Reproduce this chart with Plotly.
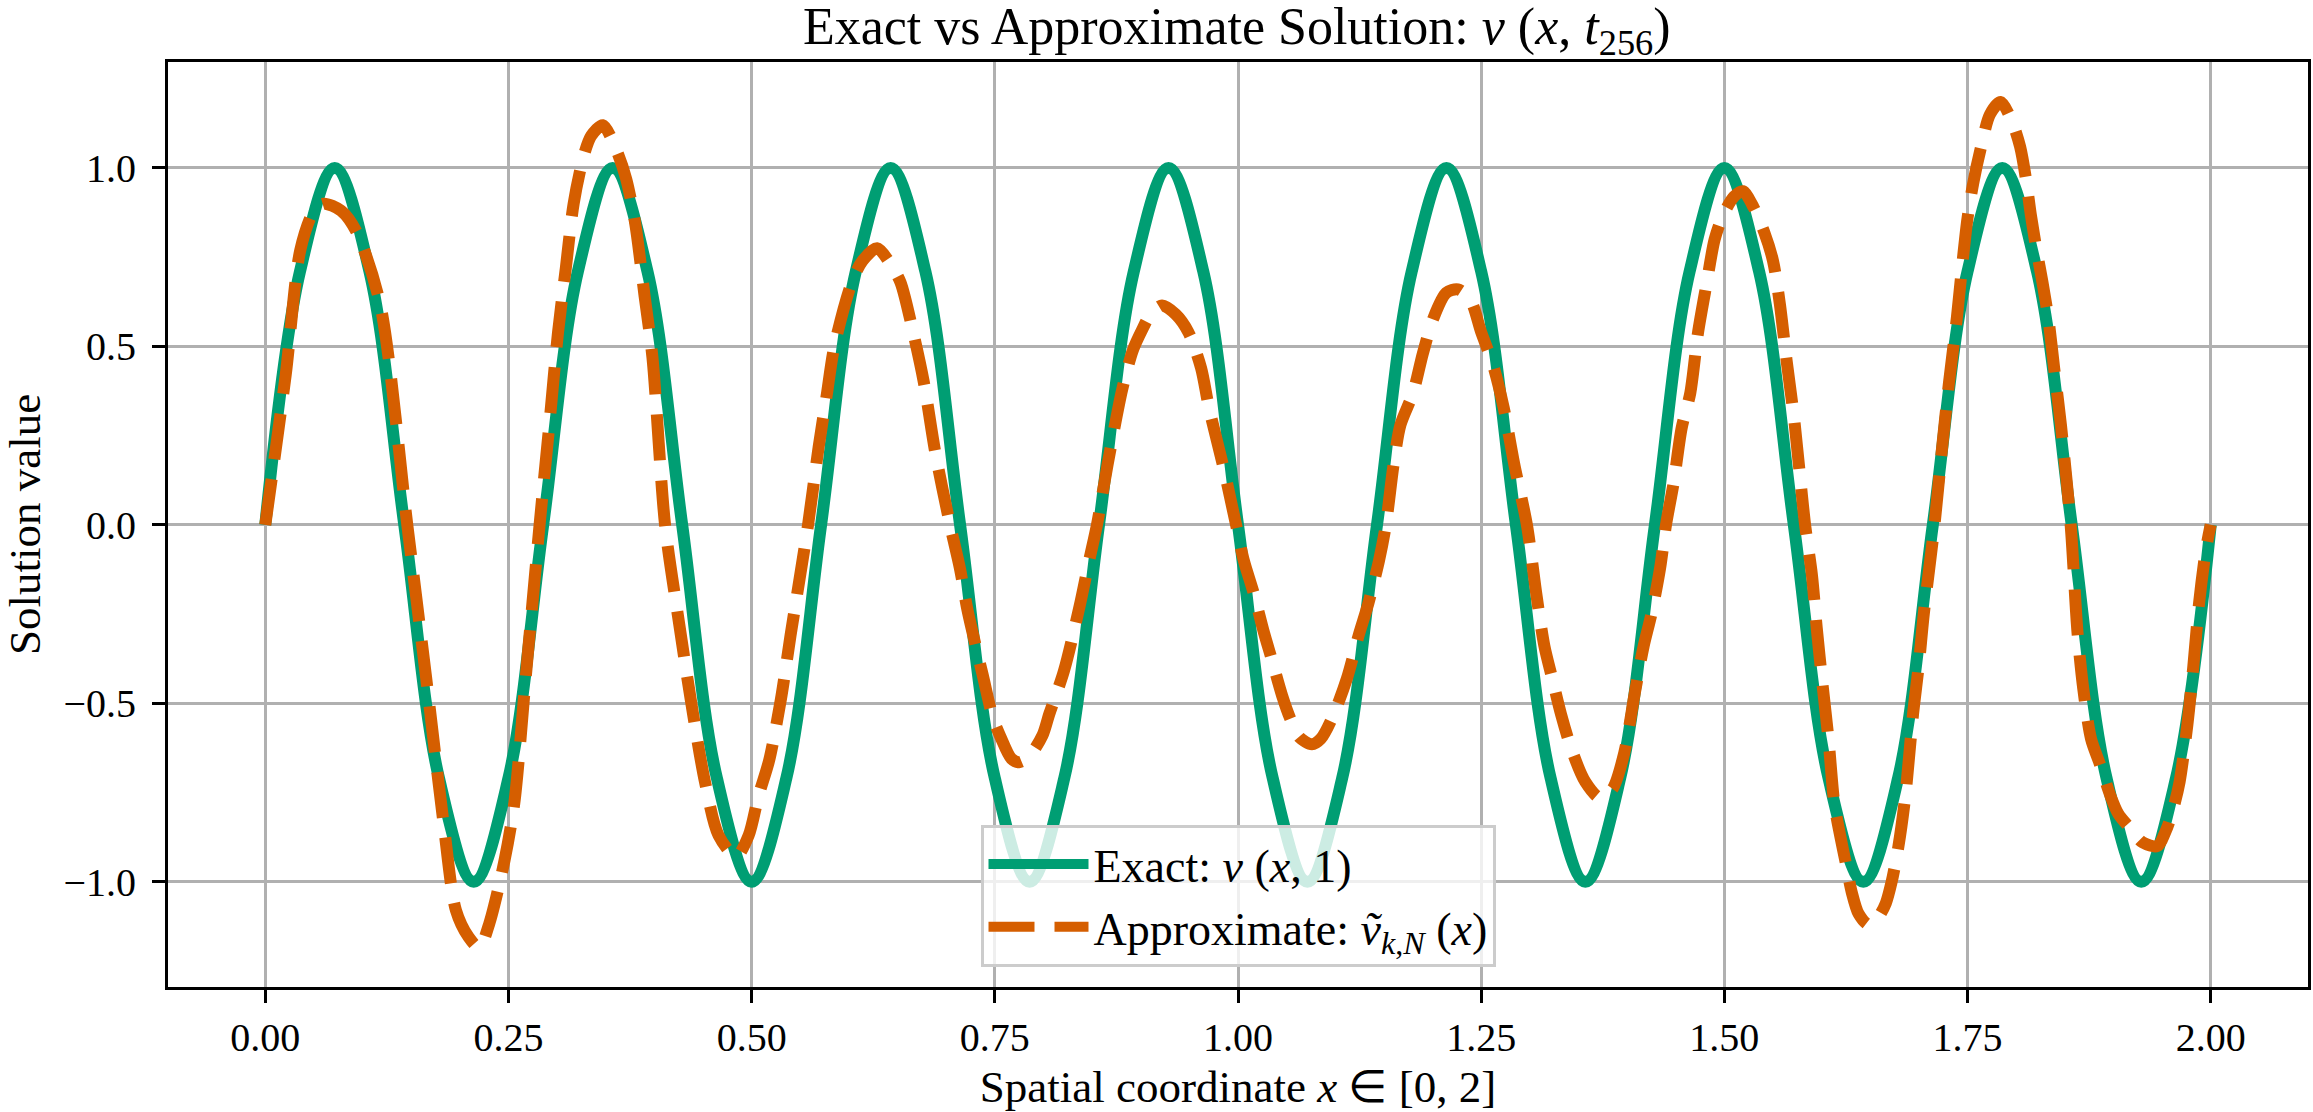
import plotly.graph_objects as go

# ---------------- data ----------------
exact_x = [0.0000, 0.0357, 0.0714, 0.1071, 0.1429, 0.1786, 0.2143, 0.2500, 0.2857, 0.3214,
           0.3571, 0.3929, 0.4286, 0.4643, 0.5000, 0.5357, 0.5714, 0.6071, 0.6429, 0.6786,
           0.7143, 0.7500, 0.7857, 0.8214, 0.8571, 0.8929, 0.9286, 0.9643, 1.0000, 1.0357,
           1.0714, 1.1071, 1.1429, 1.1786, 1.2143, 1.2500, 1.2857, 1.3214, 1.3571, 1.3929,
           1.4286, 1.4643, 1.5000, 1.5357, 1.5714, 1.6071, 1.6429, 1.6786, 1.7143, 1.7500,
           1.7857, 1.8214, 1.8571, 1.8929, 1.9286, 1.9643, 2.0000]
exact_y = [0.0, 0.71, 1.0, 0.71, 0.0, -0.71, -1.0, -0.71,
           0.0, 0.71, 1.0, 0.71, 0.0, -0.71, -1.0, -0.71,
           0.0, 0.71, 1.0, 0.71, 0.0, -0.71, -1.0, -0.71,
           0.0, 0.71, 1.0, 0.71, 0.0, -0.71, -1.0, -0.71,
           0.0, 0.71, 1.0, 0.71, 0.0, -0.71, -1.0, -0.71,
           0.0, 0.71, 1.0, 0.71, 0.0, -0.71, -1.0, -0.71,
           0.0, 0.71, 1.0, 0.71, 0.0, -0.71, -1.0, -0.71,
           0.0]

approx_x = [0.000, 0.021, 0.036, 0.050, 0.060, 0.078, 0.094, 0.118, 0.146,
            0.165, 0.183, 0.196, 0.209, 0.220, 0.230, 0.246, 0.256, 0.268, 0.282,
            0.292, 0.301, 0.309, 0.317, 0.327, 0.335, 0.347, 0.361, 0.371, 0.380, 0.390, 0.398,
            0.411, 0.424, 0.438, 0.452, 0.466, 0.484, 0.497, 0.507, 0.518, 0.530, 0.540,
            0.558, 0.569, 0.577, 0.585, 0.603, 0.614, 0.629, 0.643, 0.653, 0.666, 0.677, 0.689,
            0.704, 0.714, 0.722, 0.7375, 0.748, 0.756, 0.767, 0.775, 0.785, 0.799, 0.806, 0.821, 0.837, 0.847,
            0.855, 0.866, 0.881, 0.892, 0.902, 0.910, 0.922, 0.936, 0.949, 0.962, 0.970, 0.986,
            0.998, 1.006, 1.016, 1.027, 1.034, 1.0455, 1.054, 1.063, 1.076, 1.085, 1.097, 1.112, 1.124, 1.134, 1.145,
            1.152, 1.160, 1.167, 1.180, 1.190, 1.201, 1.214, 1.226, 1.239, 1.250, 1.262, 1.273, 1.284,
            1.297, 1.307, 1.315, 1.323, 1.332, 1.343, 1.357, 1.372, 1.385, 1.397, 1.408, 1.417, 1.425, 1.434,
            1.440, 1.448, 1.456, 1.465, 1.473, 1.482, 1.490, 1.499, 1.510, 1.519, 1.530, 1.541, 1.550, 1.557, 1.564, 1.572,
            1.583, 1.590, 1.595, 1.601, 1.607, 1.613, 1.619, 1.625, 1.631, 1.638, 1.648, 1.658, 1.666, 1.672, 1.679, 1.686, 1.694, 1.700, 1.705,
            1.716, 1.724, 1.731, 1.739, 1.745, 1.750, 1.756, 1.764, 1.773, 1.784, 1.795, 1.804, 1.810, 1.815, 1.821, 1.827, 1.833, 1.839, 1.846,
            1.856, 1.863, 1.869, 1.877, 1.886, 1.897, 1.905, 1.917, 1.930, 1.945, 1.955, 1.962, 1.968, 1.976, 1.982, 1.988, 1.995, 2.000]
approx_y = [0.00, 0.42, 0.77, 0.88, 0.90, 0.88, 0.82, 0.62, 0.00,
            -0.42, -0.83, -1.08, -1.155, -1.185, -1.12, -0.94, -0.78, -0.42, 0.00,
            0.28, 0.54, 0.72, 0.90, 1.03, 1.09, 1.12, 1.05, 0.97, 0.85, 0.64, 0.47,
            0.00, -0.25, -0.50, -0.72, -0.87, -0.93, -0.87, -0.76, -0.66, -0.49, -0.31,
            0.00, 0.22, 0.36, 0.50, 0.68, 0.74, 0.775, 0.73, 0.68, 0.54, 0.40, 0.20,
            0.00, -0.12, -0.24, -0.42, -0.54, -0.595, -0.655, -0.665, -0.65, -0.59, -0.53, -0.41, -0.23, -0.10,
            0.00, 0.17, 0.38, 0.49, 0.55, 0.59, 0.615, 0.59, 0.54, 0.44, 0.33, 0.15,
            0.00, -0.10, -0.19, -0.305, -0.37, -0.48, -0.545, -0.595, -0.615, -0.60, -0.54, -0.43, -0.31, -0.22, -0.10,
            0.00, 0.17, 0.28, 0.37, 0.48, 0.58, 0.65, 0.66, 0.63, 0.54, 0.45, 0.33, 0.17,
            0.00, -0.20, -0.34, -0.43, -0.53, -0.63, -0.72, -0.765, -0.74, -0.64, -0.47, -0.34, -0.25, -0.12,
            0.00, 0.12, 0.27, 0.37, 0.54, 0.68, 0.80, 0.87, 0.92, 0.935, 0.89, 0.82, 0.74, 0.62, 0.46, 0.29,
            0.00, -0.14, -0.29, -0.45, -0.60, -0.78, -0.87, -0.95, -1.03, -1.09, -1.12, -1.10, -1.06, -1.00, -0.90, -0.76, -0.53, -0.39, -0.25,
            0.00, 0.22, 0.40, 0.58, 0.74, 0.86, 0.96, 1.06, 1.15, 1.185, 1.135, 1.06, 0.97, 0.87, 0.77, 0.68, 0.58, 0.44, 0.28,
            0.00, -0.30, -0.46, -0.60, -0.67, -0.76, -0.81, -0.85, -0.89, -0.90, -0.85, -0.79, -0.72, -0.56, -0.40, -0.22, -0.07, 0.00]

x_ticks = [0.0, 0.25, 0.5, 0.75, 1.0, 1.25, 1.5, 1.75, 2.0]
x_tick_text = ["0.00", "0.25", "0.50", "0.75", "1.00", "1.25", "1.50", "1.75", "2.00"]
y_ticks = [-1.0, -0.5, 0.0, 0.5, 1.0]
y_tick_text = ["\u22121.0", "\u22120.5", "0.0", "0.5", "1.0"]

GREEN = "#009E73"
ORANGE = "#D55E00"
FONT = "Liberation Serif"

fig = go.Figure()
fig.add_trace(go.Scatter(
    x=exact_x, y=exact_y, mode="lines",
    line=dict(color=GREEN, width=12, shape="spline", smoothing=1.0),
    name="Exact: <i>v</i> (<i>x</i>, 1)",
))
fig.add_trace(go.Scatter(
    x=approx_x, y=approx_y, mode="lines",
    line=dict(color=ORANGE, width=12, dash="46px,20px", shape="spline", smoothing=0.8),
    name="Approximate: <i>\u1e7d</i><sub><i>k</i>,<i>N</i></sub> (<i>x</i>)",
))

axis_common = dict(
    showgrid=True, gridcolor="#b0b0b0", gridwidth=3,
    showline=True, linecolor="black", linewidth=3, mirror=True,
    ticks="outside", ticklen=13, tickwidth=3, tickcolor="black",
    zeroline=False,
    tickfont=dict(family=FONT, size=40, color="black"),
)

fig.update_layout(
    width=2313, height=1112,
    margin=dict(l=168, r=2, t=62, b=125),
    paper_bgcolor="white", plot_bgcolor="white",
    title=dict(
        text="Exact vs Approximate Solution: <i>v</i> (<i>x</i>, <i>t</i><sub>256</sub>)",
        font=dict(family=FONT, size=52, color="black"),
        x=0.5347, xanchor="center", xref="container",
        y=1 - 26 / 1112, yanchor="middle", yref="container",
    ),
    xaxis=dict(
        range=[-0.1, 2.1], tickvals=x_ticks, ticktext=x_tick_text,
        title=dict(text="Spatial coordinate <i>x</i> \u2208 [0, 2]",
                   font=dict(family=FONT, size=45, color="black"), standoff=12),
        **axis_common,
    ),
    yaxis=dict(
        range=[-1.295, 1.297], tickvals=y_ticks, ticktext=y_tick_text,
        ticklabelstandoff=8,
        title=dict(text="Solution value",
                   font=dict(family=FONT, size=45, color="black"), standoff=28),
        **axis_common,
    ),
    legend=dict(
        x=0.5, xanchor="center", y=0.022, yanchor="bottom",
        bgcolor="rgba(255,255,255,0.8)", bordercolor="#cccccc", borderwidth=3,
        font=dict(family=FONT, size=46, color="black"),
        itemwidth=100,
    ),
    showlegend=True,
)

fig.write_html("out.html")
